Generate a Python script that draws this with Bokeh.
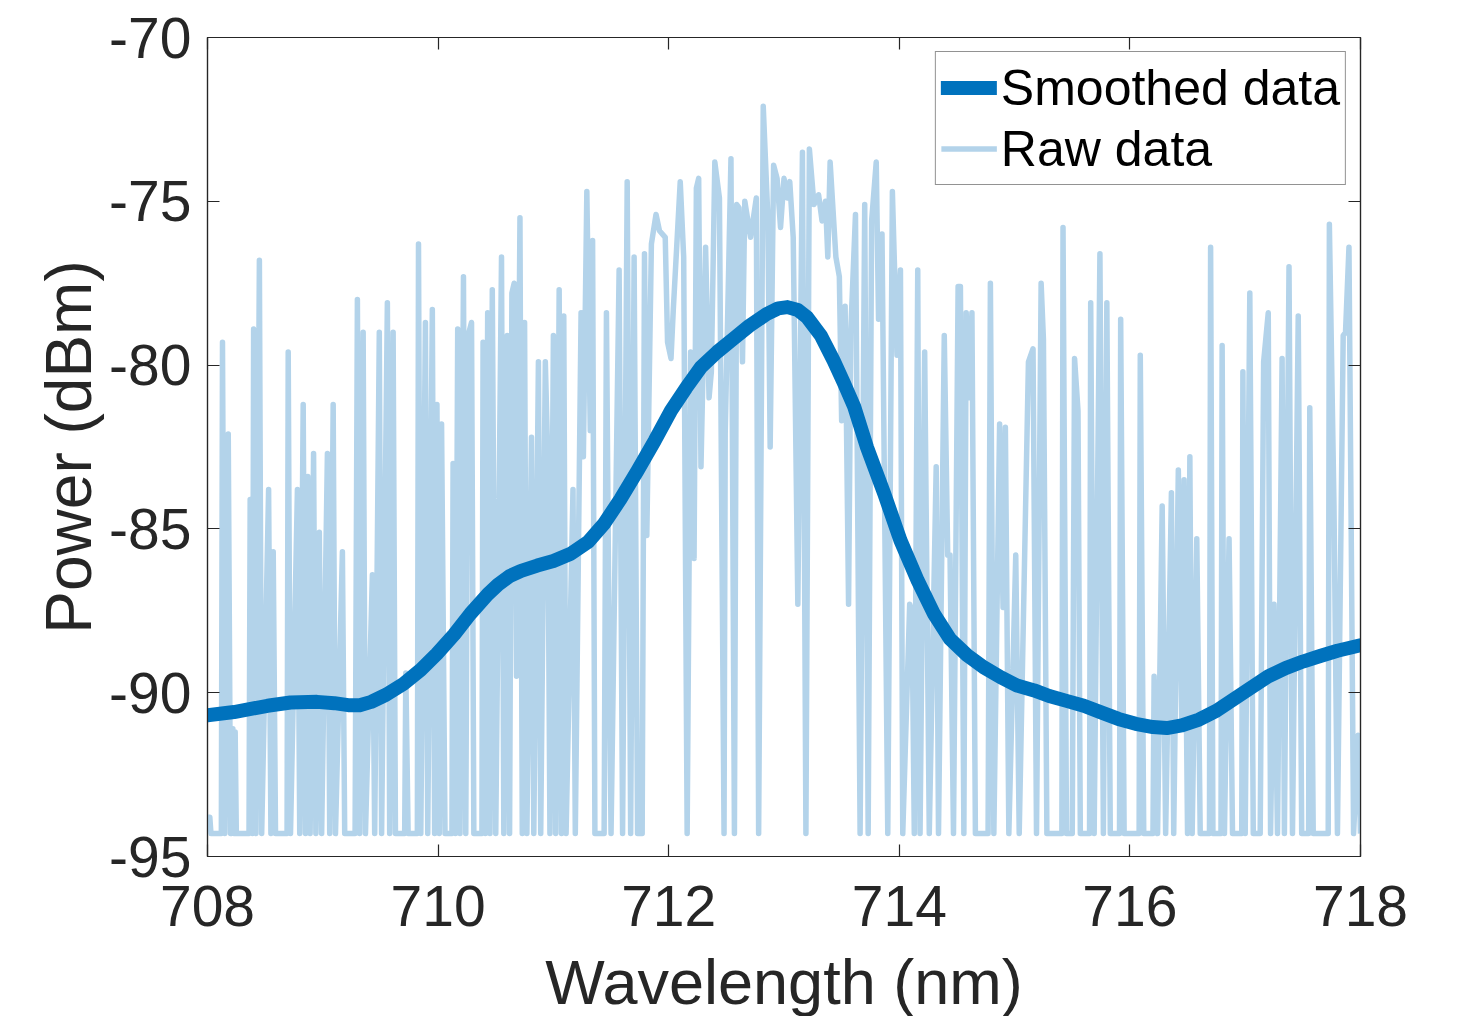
from bokeh.plotting import figure
from bokeh.models import (Range1d, FixedTicker, LinearAxis, Legend, LegendItem,
                          ColumnDataSource, CustomJSTickFormatter)
from bokeh.embed import file_html
from bokeh.resources import INLINE

# ---------------- data ----------------
x_ticks = [708, 710, 712, 714, 716, 718]
y_ticks = [-95, -90, -85, -80, -75, -70]

smooth_wl = [708.00, 708.23, 708.52, 708.72, 708.95, 709.10, 709.22, 709.32, 709.42, 709.55,
             709.70, 709.85, 709.99, 710.14, 710.28, 710.43, 710.52, 710.62, 710.72, 710.86,
             711.00, 711.15, 711.30, 711.44, 711.58, 711.73, 711.88, 712.02, 712.15, 712.28,
             712.42, 712.56, 712.70, 712.85, 712.95, 713.03, 713.12, 713.20, 713.32, 713.43,
             713.52, 713.61, 713.72, 713.87, 714.01, 714.16, 714.30, 714.44, 714.59, 714.73,
             714.88, 715.02, 715.17, 715.30, 715.45, 715.60, 715.75, 715.90, 716.05, 716.20,
             716.32, 716.45, 716.60, 716.75, 716.90, 717.05, 717.20, 717.35, 717.50, 717.65,
             717.80, 718.00]
smooth_dbm = [-90.69, -90.59, -90.40, -90.30, -90.28, -90.32, -90.38, -90.38, -90.28, -90.06,
              -89.73, -89.30, -88.81, -88.22, -87.59, -87.00, -86.70, -86.44, -86.28, -86.12,
              -85.98, -85.76, -85.40, -84.84, -84.10, -83.22, -82.30, -81.39, -80.70, -80.06,
              -79.60, -79.20, -78.80, -78.44, -78.27, -78.23, -78.32, -78.54, -79.10, -79.86,
              -80.55, -81.28, -82.51, -83.93, -85.35, -86.58, -87.59, -88.36, -88.86, -89.22,
              -89.53, -89.78, -89.93, -90.10, -90.25, -90.40, -90.60, -90.80, -90.95, -91.05,
              -91.08, -91.00, -90.82, -90.55, -90.20, -89.85, -89.50, -89.25, -89.05, -88.88,
              -88.72, -88.55]

raw_a = [(708.00, -93.8), (708.02, -93.8), (708.03, -94.3), (708.12, -94.3), (708.13, -79.3),
         (708.15, -94.3), (708.18, -82.1), (708.20, -94.3), (708.22, -91.1), (708.23, -94.3),
         (708.24, -91.2), (708.25, -94.3), (708.36, -94.3), (708.37, -84.1), (708.39, -94.3),
         (708.40, -78.9), (708.42, -94.3), (708.45, -76.8), (708.47, -94.3), (708.53, -83.8),
         (708.55, -94.3), (708.57, -85.7), (708.59, -94.3), (708.69, -94.3), (708.70, -79.6),
         (708.72, -94.3), (708.78, -83.8), (708.80, -94.3), (708.83, -81.2), (708.85, -94.3),
         (708.87, -83.4), (708.89, -94.3), (708.92, -82.7), (708.94, -94.3), (708.97, -85.1),
         (708.99, -94.3), (709.04, -82.7), (709.06, -94.3), (709.09, -81.2), (709.11, -94.3),
         (709.17, -85.7), (709.19, -94.3), (709.28, -94.3), (709.30, -78.0), (709.32, -94.3),
         (709.35, -79.0), (709.37, -94.3), (709.43, -86.4), (709.45, -94.3), (709.49, -79.0),
         (709.51, -94.3), (709.56, -78.1), (709.58, -94.3), (709.61, -79.0), (709.63, -94.3)]
raw_b = [(709.71, -94.3), (709.72, -89.4), (709.74, -94.3), (709.82, -94.3), (709.83, -76.3),
         (709.85, -94.3), (709.89, -78.7), (709.91, -94.3), (709.95, -78.3), (709.97, -94.3),
         (709.99, -81.2), (710.01, -94.3), (710.03, -81.8), (710.06, -94.3), (710.12, -94.3),
         (710.13, -83.0), (710.15, -94.3), (710.17, -78.9), (710.19, -94.3), (710.22, -77.3),
         (710.24, -94.3), (710.26, -79.1), (710.29, -78.7), (710.31, -94.3), (710.38, -94.3),
         (710.39, -79.3), (710.41, -94.3), (710.43, -78.4), (710.45, -94.3), (710.47, -77.7),
         (710.50, -94.3), (710.55, -76.7), (710.57, -94.3), (710.60, -79.1), (710.62, -94.3),
         (710.64, -77.8), (710.66, -77.5), (710.68, -89.5), (710.71, -75.5), (710.73, -94.3),
         (710.75, -78.7), (710.77, -94.3), (710.81, -82.2), (710.83, -94.3), (710.87, -79.9),
         (710.89, -94.3), (710.93, -79.9), (710.95, -82.7), (710.97, -94.3), (711.00, -79.1),
         (711.02, -94.3), (711.05, -77.7), (711.07, -94.3), (711.09, -78.5), (711.11, -94.3),
         (711.17, -83.8), (711.19, -94.3), (711.24, -78.4), (711.26, -82.8), (711.29, -74.7),
         (711.32, -82.0), (711.34, -76.2), (711.36, -94.3)]
raw_c = [(711.44, -94.3), (711.46, -78.4), (711.48, -87.3), (711.50, -94.3), (711.57, -77.1),
         (711.60, -94.3), (711.64, -74.4), (711.67, -94.3), (711.70, -76.7), (711.73, -94.3),
         (711.77, -94.3), (711.79, -76.6), (711.81, -85.2), (711.85, -76.3), (711.89, -75.4),
         (711.92, -75.9), (711.97, -76.1), (711.99, -79.3), (712.02, -79.8), (712.04, -78.3),
         (712.10, -74.4), (712.13, -76.7), (712.16, -94.3), (712.19, -79.6), (712.22, -85.9),
         (712.24, -74.6), (712.26, -74.3), (712.28, -83.1), (712.32, -76.4), (712.35, -81.0),
         (712.37, -80.2), (712.40, -73.8), (712.44, -74.9), (712.48, -94.3), (712.49, -82.1),
         (712.54, -73.7), (712.57, -94.3), (712.59, -75.1), (712.61, -75.2), (712.64, -79.9),
         (712.66, -75.0), (712.71, -76.1), (712.76, -74.9), (712.78, -94.3), (712.82, -72.1),
         (712.86, -75.5), (712.88, -82.5), (712.91, -73.9), (712.94, -74.3), (712.97, -75.8),
         (713.00, -74.3), (713.03, -74.9)]
raw_d = [(713.05, -74.4), (713.08, -76.1), (713.12, -87.3), (713.16, -73.5), (713.19, -94.3),
         (713.22, -73.4), (713.26, -75.1), (713.30, -74.8), (713.33, -75.6), (713.36, -75.0),
         (713.38, -76.7), (713.40, -73.8), (713.45, -76.7), (713.48, -77.3), (713.50, -81.7),
         (713.53, -78.2), (713.56, -87.3), (713.58, -78.9), (713.62, -75.4), (713.66, -94.3),
         (713.70, -75.1), (713.73, -94.3), (713.76, -75.6), (713.80, -73.8), (713.82, -78.6),
         (713.85, -76.0), (713.90, -94.3), (713.94, -74.7), (713.98, -79.7), (714.01, -77.1),
         (714.03, -94.3), (714.09, -87.3), (714.11, -87.5), (714.13, -94.3), (714.16, -77.1),
         (714.18, -94.3), (714.22, -79.6), (714.26, -94.3), (714.32, -83.1), (714.34, -94.3),
         (714.39, -79.1), (714.42, -85.8), (714.44, -85.8), (714.47, -94.3), (714.51, -77.6),
         (714.53, -77.6), (714.56, -94.3), (714.58, -78.4), (714.60, -81.0), (714.63, -78.4),
         (714.66, -94.3)]
raw_e = [(714.77, -94.3), (714.79, -77.5), (714.82, -94.3), (714.87, -81.8), (714.90, -87.4),
         (714.92, -81.9), (714.95, -94.3), (715.01, -85.8), (715.04, -94.3), (715.12, -79.9),
         (715.16, -79.5), (715.19, -94.3), (715.23, -77.5), (715.25, -79.2), (715.28, -94.3),
         (715.41, -94.3), (715.42, -75.8), (715.45, -94.3), (715.50, -94.3), (715.52, -79.8),
         (715.55, -81.4), (715.57, -94.3), (715.65, -94.3), (715.66, -78.1), (715.69, -94.3),
         (715.74, -76.6), (715.77, -94.3), (715.80, -78.1), (715.83, -94.3), (715.91, -94.3),
         (715.92, -78.6), (715.95, -94.3), (716.08, -94.3), (716.09, -79.7), (716.12, -94.3),
         (716.20, -94.3), (716.21, -89.5), (716.24, -94.3), (716.28, -84.3), (716.31, -94.3),
         (716.36, -83.9), (716.38, -94.3), (716.42, -83.2)]
raw_f = [(716.45, -91.0), (716.47, -83.5), (716.50, -94.3), (716.52, -82.8), (716.54, -94.3),
         (716.58, -85.3), (716.61, -94.3), (716.69, -94.3), (716.70, -76.4), (716.72, -94.3),
         (716.79, -94.3), (716.80, -79.4), (716.82, -94.3), (716.86, -85.3), (716.89, -94.3),
         (716.97, -94.3), (716.98, -80.2), (717.00, -94.3), (717.04, -77.8), (717.07, -94.3),
         (717.13, -94.3), (717.16, -79.9), (717.20, -78.4), (717.22, -94.3), (717.25, -87.3),
         (717.28, -94.3), (717.32, -79.8), (717.34, -94.3), (717.38, -77.0), (717.41, -94.3),
         (717.46, -78.5), (717.49, -94.3), (717.55, -94.3), (717.56, -81.3), (717.59, -94.3),
         (717.72, -94.3), (717.73, -75.7), (717.77, -84.3), (717.80, -94.3), (717.85, -79.1),
         (717.87, -79.0), (717.90, -76.4), (717.94, -94.3), (717.98, -91.3), (718.00, -94.3)]

# ---------------- figure ----------------
FONT = "Liberation Sans"
AX = "#262626"

raw_all = raw_a + raw_b + raw_c + raw_d + raw_e + raw_f
raw_src = ColumnDataSource(dict(x=[q[0] for q in raw_all], y=[q[1] for q in raw_all]))
smooth_src = ColumnDataSource(dict(x=smooth_wl, y=smooth_dbm))

p = figure(frame_width=1153, frame_height=819,
           x_range=Range1d(708, 718), y_range=Range1d(-95, -70),
           output_backend="svg", toolbar_location=None,
           min_border_left=207, min_border_right=106, min_border_top=37, min_border_bottom=144,
           background_fill_color="white", border_fill_color="white")
p.xgrid.visible = False
p.ygrid.visible = False
p.outline_line_color = AX
p.outline_line_width = 1.2

r_raw = p.line("x", "y", source=raw_src, line_color="#b3d3ea", line_width=5.5, line_join="round")
r_smooth = p.line("x", "y", source=smooth_src, line_color="#0072bd", line_width=14,
                  line_join="round", line_cap="round")

num_fmt = CustomJSTickFormatter(code="return tick.toFixed(0);")
blank_fmt = CustomJSTickFormatter(code="return '';")


def style_axis(ax, ticks, show_labels=True):
    ax.ticker = FixedTicker(ticks=ticks)
    ax.axis_line_color = AX
    ax.axis_line_width = 1.2
    ax.major_tick_line_color = AX
    ax.major_tick_line_width = 1.2
    ax.major_tick_in = 12
    ax.major_tick_out = 0
    ax.minor_tick_line_color = None
    ax.major_label_text_font = FONT
    ax.major_label_text_color = AX
    ax.major_label_text_font_size = "57px"
    ax.formatter = num_fmt if show_labels else blank_fmt


xa = p.xaxis[0]
ya = p.yaxis[0]
style_axis(xa, x_ticks)
style_axis(ya, y_ticks)
xa.major_label_standoff = 29
ya.major_label_standoff = 16
xa.axis_label = "Wavelength (nm)"
ya.axis_label = "Power (dBm)"
for ax in (xa, ya):
    ax.axis_label_text_font = FONT
    ax.axis_label_text_font_style = "normal"
    ax.axis_label_text_color = AX
xa.axis_label_text_font_size = "63px"
ya.axis_label_text_font_size = "64px"
xa.axis_label_standoff = 18
ya.axis_label_standoff = 1

top_ax = LinearAxis()
right_ax = LinearAxis()
style_axis(top_ax, x_ticks, show_labels=False)
style_axis(right_ax, y_ticks, show_labels=False)
p.add_layout(top_ax, "above")
p.add_layout(right_ax, "right")

legend = Legend(items=[LegendItem(label="Smoothed data", renderers=[r_smooth]),
                       LegendItem(label="Raw data", renderers=[r_raw])],
                location="top_right")
legend.margin = 14
legend.padding = 5
legend.spacing = 0
legend.glyph_width = 56
legend.glyph_height = 61
legend.label_height = 61
legend.label_standoff = 4
legend.label_text_font = FONT
legend.label_text_font_size = "50px"
legend.label_text_color = "black"
legend.border_line_color = AX
legend.border_line_width = 1.2
legend.background_fill_color = "white"
legend.background_fill_alpha = 1
p.add_layout(legend)

open("out.html", "w").write(file_html(p, INLINE))
